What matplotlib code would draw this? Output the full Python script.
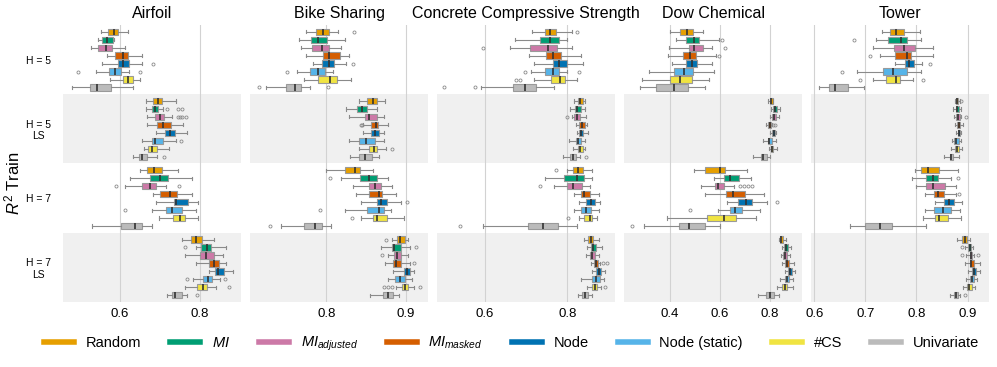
import matplotlib
matplotlib.use("Agg")
import matplotlib.pyplot as plt
from matplotlib.lines import Line2D

plt.rcParams['font.family'] = ['Liberation Sans', 'DejaVu Sans']
plt.rcParams['mathtext.fontset'] = 'custom'
plt.rcParams['mathtext.rm'] = 'Liberation Sans'
plt.rcParams['mathtext.it'] = 'Liberation Sans:italic'

methods = ['Random', '$MI$', '$MI_{adjusted}$', '$MI_{masked}$', 'Node',
           'Node (static)', '#CS', 'Univariate']
colors = ['#E69F00', '#009E73', '#CC79A7', '#D55E00', '#0072B2',
          '#56B4E9', '#F0E442', '#BBBBBB']
groups = ['H = 5', 'H = 5\nLS', 'H = 7', 'H = 7\nLS']
titles = ['Airfoil', 'Bike Sharing', 'Concrete Compressive Strength',
          'Dow Chemical', 'Tower']
xticks = [[0.6, 0.8], [0.8, 0.9], [0.6, 0.8], [0.4, 0.6, 0.8],
          [0.6, 0.7, 0.8, 0.9]]
xlims = [(0.4575, 0.9025), (0.7043, 0.9276), (0.483, 0.916),
         (0.2145, 0.93), (0.5935, 0.942)]

# each row: whisker low, q1, median, q3, whisker high, outliers
airfoil_h5 = [(0.552, 0.570, 0.586, 0.596, 0.621, []),
              (0.544, 0.556, 0.568, 0.582, 0.585, []),
              (0.527, 0.546, 0.564, 0.579, 0.613, []),
              (0.567, 0.588, 0.607, 0.620, 0.654, []),
              (0.554, 0.596, 0.608, 0.622, 0.656, [0.683]),
              (0.539, 0.573, 0.588, 0.602, 0.623, [0.495, 0.651]),
              (0.575, 0.608, 0.621, 0.633, 0.650, []),
              (0.480, 0.524, 0.542, 0.577, 0.632, [])]
airfoil_h5ls = [(0.665, 0.683, 0.694, 0.706, 0.741, []),
                (0.665, 0.680, 0.688, 0.696, 0.708, [0.718, 0.744, 0.755]),
                (0.668, 0.687, 0.700, 0.710, 0.731, [0.744, 0.749, 0.755, 0.764]),
                (0.668, 0.693, 0.708, 0.728, 0.758, []),
                (0.691, 0.712, 0.725, 0.737, 0.768, []),
                (0.656, 0.680, 0.688, 0.708, 0.741, [0.753]),
                (0.660, 0.671, 0.681, 0.693, 0.722, []),
                (0.633, 0.647, 0.656, 0.668, 0.693, [0.710])]
airfoil_h7 = [(0.650, 0.668, 0.685, 0.704, 0.745, []),
              (0.625, 0.675, 0.701, 0.719, 0.779, []),
              (0.612, 0.654, 0.675, 0.690, 0.716, [0.591, 0.748]),
              (0.683, 0.701, 0.726, 0.743, 0.779, []),
              (0.691, 0.735, 0.741, 0.771, 0.795, []),
              (0.679, 0.715, 0.731, 0.754, 0.790, [0.612]),
              (0.698, 0.733, 0.750, 0.763, 0.795, []),
              (0.529, 0.603, 0.637, 0.656, 0.679, [])]
airfoil_h7ls = [(0.756, 0.778, 0.789, 0.804, 0.834, []),
                (0.791, 0.803, 0.817, 0.828, 0.866, [0.762]),
                (0.762, 0.801, 0.814, 0.835, 0.857, []),
                (0.791, 0.822, 0.834, 0.847, 0.866, []),
                (0.822, 0.838, 0.846, 0.860, 0.882, []),
                (0.783, 0.808, 0.819, 0.829, 0.850, [0.768, 0.862]),
                (0.762, 0.792, 0.808, 0.817, 0.840, [0.872]),
                (0.718, 0.730, 0.737, 0.756, 0.768, [0.793])]

bike_h5 = [(0.774, 0.787, 0.796, 0.803, 0.815, [0.835]),
           (0.766, 0.781, 0.790, 0.801, 0.823, []),
           (0.768, 0.782, 0.794, 0.803, 0.819, []),
           (0.775, 0.796, 0.804, 0.817, 0.829, []),
           (0.783, 0.794, 0.803, 0.810, 0.825, [0.834]),
           (0.763, 0.779, 0.789, 0.798, 0.809, [0.751]),
           (0.772, 0.789, 0.805, 0.814, 0.831, []),
           (0.724, 0.749, 0.761, 0.768, 0.779, [0.715, 0.802])]
bike_h5ls = [(0.841, 0.851, 0.859, 0.864, 0.874, []),
             (0.825, 0.839, 0.845, 0.851, 0.864, []),
             (0.828, 0.848, 0.854, 0.863, 0.872, []),
             (0.846, 0.856, 0.862, 0.865, 0.878, [0.843, 0.845]),
             (0.846, 0.856, 0.861, 0.866, 0.872, []),
             (0.828, 0.841, 0.850, 0.861, 0.872, []),
             (0.841, 0.854, 0.860, 0.864, 0.875, [0.883]),
             (0.830, 0.841, 0.849, 0.857, 0.866, [])]
bike_h7 = [(0.800, 0.823, 0.836, 0.842, 0.858, []),
           (0.818, 0.842, 0.854, 0.864, 0.877, [0.805]),
           (0.834, 0.854, 0.861, 0.868, 0.882, []),
           (0.837, 0.853, 0.866, 0.870, 0.888, []),
           (0.844, 0.863, 0.869, 0.876, 0.894, [0.901]),
           (0.823, 0.851, 0.866, 0.873, 0.881, [0.792]),
           (0.843, 0.859, 0.863, 0.876, 0.897, [0.832]),
           (0.743, 0.772, 0.786, 0.795, 0.806, [0.729])]
bike_h7ls = [(0.883, 0.889, 0.893, 0.899, 0.902, [0.875]),
             (0.868, 0.882, 0.885, 0.894, 0.905, [0.912]),
             (0.877, 0.885, 0.889, 0.894, 0.902, [0.870]),
             (0.874, 0.884, 0.888, 0.894, 0.905, [0.910]),
             (0.884, 0.897, 0.901, 0.905, 0.910, []),
             (0.877, 0.886, 0.893, 0.899, 0.907, []),
             (0.887, 0.895, 0.899, 0.903, 0.910, [0.872, 0.877, 0.883, 0.918]),
             (0.855, 0.871, 0.877, 0.884, 0.891, [])]

concrete_h5 = [(0.715, 0.745, 0.758, 0.772, 0.811, [0.824]),
               (0.672, 0.733, 0.759, 0.779, 0.800, []),
               (0.660, 0.710, 0.752, 0.774, 0.811, [0.595]),
               (0.706, 0.748, 0.764, 0.784, 0.833, []),
               (0.718, 0.764, 0.780, 0.798, 0.837, []),
               (0.712, 0.746, 0.766, 0.780, 0.800, [0.696, 0.829]),
               (0.720, 0.761, 0.782, 0.795, 0.823, [0.676, 0.684]),
               (0.589, 0.668, 0.698, 0.723, 0.767, [0.500, 0.576])]
concrete_h5ls = [(0.816, 0.825, 0.831, 0.837, 0.844, []),
                 (0.806, 0.818, 0.824, 0.834, 0.842, []),
                 (0.811, 0.817, 0.823, 0.830, 0.845, [0.800]),
                 (0.820, 0.828, 0.835, 0.842, 0.849, []),
                 (0.824, 0.828, 0.834, 0.839, 0.851, []),
                 (0.805, 0.820, 0.825, 0.833, 0.844, []),
                 (0.815, 0.826, 0.831, 0.837, 0.843, []),
                 (0.790, 0.807, 0.813, 0.822, 0.830, [0.845])]
concrete_h7 = [(0.798, 0.815, 0.827, 0.837, 0.859, [0.772]),
               (0.746, 0.791, 0.823, 0.840, 0.861, []),
               (0.768, 0.800, 0.815, 0.836, 0.855, [0.733]),
               (0.817, 0.834, 0.841, 0.854, 0.877, []),
               (0.829, 0.845, 0.857, 0.867, 0.880, []),
               (0.817, 0.833, 0.846, 0.858, 0.876, []),
               (0.829, 0.841, 0.854, 0.859, 0.873, [0.802]),
               (0.595, 0.705, 0.740, 0.778, 0.823, [0.538])]
concrete_h7ls = [(0.841, 0.851, 0.858, 0.863, 0.876, []),
                 (0.848, 0.858, 0.863, 0.870, 0.884, []),
                 (0.845, 0.854, 0.860, 0.867, 0.876, []),
                 (0.857, 0.866, 0.870, 0.874, 0.880, [0.886, 0.896]),
                 (0.861, 0.869, 0.876, 0.883, 0.891, []),
                 (0.834, 0.859, 0.869, 0.880, 0.888, []),
                 (0.849, 0.861, 0.867, 0.873, 0.882, [0.892]),
                 (0.827, 0.836, 0.843, 0.851, 0.861, [])]

dow_h5 = [(0.401, 0.440, 0.467, 0.491, 0.530, []),
          (0.423, 0.463, 0.494, 0.517, 0.597, [0.608]),
          (0.396, 0.474, 0.494, 0.532, 0.570, [0.619]),
          (0.393, 0.450, 0.479, 0.503, 0.584, [0.597]),
          (0.409, 0.462, 0.487, 0.509, 0.570, []),
          (0.313, 0.417, 0.454, 0.491, 0.578, []),
          (0.286, 0.400, 0.440, 0.487, 0.557, []),
          (0.279, 0.345, 0.416, 0.471, 0.538, [])]
dow_h5ls = [(0.793, 0.800, 0.805, 0.812, 0.815, []),
            (0.804, 0.813, 0.820, 0.828, 0.843, []),
            (0.801, 0.809, 0.816, 0.825, 0.836, []),
            (0.787, 0.795, 0.800, 0.807, 0.808, [0.815, 0.821]),
            (0.803, 0.809, 0.816, 0.820, 0.827, []),
            (0.772, 0.792, 0.799, 0.808, 0.824, []),
            (0.796, 0.804, 0.809, 0.815, 0.829, []),
            (0.731, 0.765, 0.774, 0.789, 0.801, [])]
dow_h7 = [(0.497, 0.541, 0.599, 0.620, 0.709, []),
          (0.578, 0.615, 0.642, 0.676, 0.726, []),
          (0.523, 0.580, 0.593, 0.616, 0.658, [0.679, 0.695, 0.711, 0.729]),
          (0.538, 0.625, 0.651, 0.699, 0.777, []),
          (0.629, 0.671, 0.705, 0.730, 0.791, [0.829]),
          (0.592, 0.642, 0.659, 0.690, 0.760, [0.481]),
          (0.387, 0.548, 0.617, 0.663, 0.744, []),
          (0.294, 0.434, 0.474, 0.538, 0.599, [0.246])]
dow_h7ls = [(0.838, 0.840, 0.846, 0.852, 0.866, []),
            (0.848, 0.856, 0.866, 0.872, 0.886, []),
            (0.846, 0.852, 0.860, 0.868, 0.880, []),
            (0.850, 0.863, 0.870, 0.879, 0.897, []),
            (0.860, 0.874, 0.880, 0.890, 0.901, []),
            (0.840, 0.860, 0.870, 0.879, 0.893, []),
            (0.828, 0.851, 0.860, 0.870, 0.893, []),
            (0.752, 0.787, 0.803, 0.816, 0.836, [])]

tower_h5 = [(0.733, 0.749, 0.760, 0.775, 0.806, []),
            (0.720, 0.744, 0.770, 0.782, 0.809, [0.677]),
            (0.714, 0.755, 0.775, 0.797, 0.832, []),
            (0.729, 0.758, 0.781, 0.789, 0.832, [0.708]),
            (0.758, 0.777, 0.786, 0.796, 0.811, [0.827]),
            (0.684, 0.734, 0.754, 0.782, 0.809, [0.655]),
            (0.714, 0.741, 0.760, 0.768, 0.793, [0.690, 0.813]),
            (0.609, 0.629, 0.641, 0.665, 0.698, [])]
tower_h5ls = [(0.875, 0.877, 0.879, 0.881, 0.885, [0.888]),
              (0.872, 0.877, 0.880, 0.883, 0.888, []),
              (0.874, 0.877, 0.881, 0.885, 0.887, [0.896]),
              (0.876, 0.880, 0.883, 0.886, 0.891, []),
              (0.878, 0.881, 0.883, 0.886, 0.888, []),
              (0.869, 0.874, 0.878, 0.883, 0.888, []),
              (0.868, 0.875, 0.879, 0.883, 0.890, []),
              (0.853, 0.865, 0.867, 0.871, 0.883, [])]
tower_h7 = [(0.798, 0.808, 0.822, 0.844, 0.882, []),
            (0.791, 0.818, 0.832, 0.842, 0.867, [0.881]),
            (0.800, 0.819, 0.832, 0.855, 0.878, []),
            (0.816, 0.835, 0.843, 0.854, 0.877, [0.884]),
            (0.837, 0.854, 0.863, 0.873, 0.890, []),
            (0.816, 0.834, 0.852, 0.867, 0.886, []),
            (0.813, 0.837, 0.845, 0.861, 0.888, []),
            (0.669, 0.699, 0.728, 0.753, 0.818, [])]
tower_h7ls = [(0.880, 0.890, 0.895, 0.899, 0.904, []),
              (0.894, 0.900, 0.904, 0.907, 0.911, [0.890]),
              (0.896, 0.904, 0.906, 0.909, 0.912, [0.889, 0.920]),
              (0.894, 0.904, 0.907, 0.912, 0.924, []),
              (0.900, 0.908, 0.912, 0.916, 0.925, []),
              (0.897, 0.904, 0.908, 0.913, 0.919, []),
              (0.892, 0.899, 0.903, 0.908, 0.915, []),
              (0.865, 0.873, 0.877, 0.881, 0.886, [0.894])]

panels = [[airfoil_h5, airfoil_h5ls, airfoil_h7, airfoil_h7ls],
          [bike_h5, bike_h5ls, bike_h7, bike_h7ls],
          [concrete_h5, concrete_h5ls, concrete_h7, concrete_h7ls],
          [dow_h5, dow_h5ls, dow_h7, dow_h7ls],
          [tower_h5, tower_h5ls, tower_h7, tower_h7ls]]

fig, axes = plt.subplots(1, 5, figsize=(9.97, 3.67), dpi=100)
fig.subplots_adjust(left=0.0632, right=0.992, bottom=0.177, top=0.932,
                    wspace=0.0506)

step = 0.115
for p, ax in enumerate(axes):
    for g in (1, 3):
        ax.axhspan(g, g + 1, color='#f0f0f0', zorder=0, lw=0)
    for g, rows in enumerate(panels[p]):
        for i, r in enumerate(rows):
            st = dict(whislo=r[0], q1=r[1], med=r[2], q3=r[3], whishi=r[4],
                      fliers=r[5])
            pos = g + 0.5 + (i - 3.5) * step
            ax.bxp([st], positions=[pos], widths=0.09, capwidths=0.045,
                   orientation='horizontal', patch_artist=True,
                   boxprops=dict(facecolor=colors[i], edgecolor='#9a9a9a',
                                 lw=0.8),
                   whiskerprops=dict(color='#8a8a8a', lw=0.8),
                   capprops=dict(color='#8a8a8a', lw=0.8),
                   medianprops=dict(color='#333333', lw=1.2),
                   flierprops=dict(marker='o', markersize=2.2,
                                   markerfacecolor='none',
                                   markeredgecolor='#8a8a8a',
                                   markeredgewidth=0.6),
                   manage_ticks=False, zorder=2)
    ax.set_ylim(4, 0)
    ax.set_xlim(*xlims[p])
    ax.set_xticks(xticks[p])
    ax.set_xticklabels([f'{t:.1f}' for t in xticks[p]], fontsize=9.5)
    ax.grid(axis='x', color='#d2d2d2', lw=0.8, zorder=0.5)
    ax.set_axisbelow(True)
    ax.tick_params(length=0, pad=4)
    for s in ax.spines.values():
        s.set_visible(False)
    ax.set_title(titles[p], fontsize=11.5, pad=5)
    if p == 0:
        ax.set_yticks([0.5, 1.5, 2.5, 3.5])
        ax.set_yticklabels(groups, fontsize=7.5, multialignment='center')
        ax.tick_params(axis='y', pad=9)
    else:
        ax.set_yticks([])

fig.text(0.012, 0.5, '$R^2$ Train', rotation=90, va='center', ha='center',
         fontsize=12)

handles = [Line2D([], [], color=c, lw=4) for c in colors]
fig.legend(handles, methods, loc='center', ncol=8, frameon=False,
           bbox_to_anchor=(0.513, 0.063), fontsize=10.5, handlelength=2.05,
           columnspacing=2.0, handletextpad=0.8)

fig.savefig('out.png', dpi=100)
